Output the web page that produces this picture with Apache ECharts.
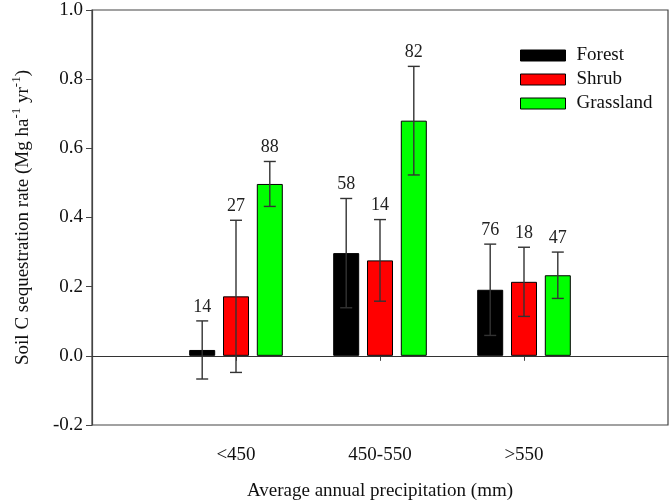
<!DOCTYPE html>
<html>
<head>
<meta charset="utf-8">
<script src="https://cdn.jsdelivr.net/npm/echarts@6/dist/echarts.min.js"></script>
<style>html,body{margin:0;padding:0;background:#fff}#c{width:672px;height:503px}</style>
</head>
<body>
<div id="c"></div>
<script>
var categories = ['<450', '450-550', '>550'];
var seriesNames = ['Forest', 'Shrub', 'Grassland'];
var forest = [0.017, 0.297, 0.191];
var forestErr = [0.084, 0.158, 0.132];
var shrub = [0.172, 0.276, 0.214];
var shrubErr = [0.220, 0.118, 0.100];
var grass = [0.497, 0.680, 0.233];
var grassErr = [0.065, 0.157, 0.067];
var nForest = [14, 58, 76];
var nShrub = [27, 14, 18];
var nGrass = [88, 82, 47];
var yTicks = { min: -0.2, max: 1.0, interval: 0.2 };

var FONT = "'Liberation Serif','Times New Roman',serif";
var colors = ['#000000', '#ff0000', '#00ff00'];
var means = [forest, shrub, grass];
var errs = [forestErr, shrubErr, grassErr];
var ns = [nForest, nShrub, nGrass];
var xCats = [''].concat(categories).concat(['']);
var CAT_GAP = 0.35, BAR_GAP = 0.3;

function pad(arr) { return [null].concat(arr).concat([null]); }

var series = [];
seriesNames.forEach(function (name, i) {
  var s = {
    name: name, type: 'bar', data: pad(means[i]),
    barCategoryGap: '35%', barGap: '30%',
    itemStyle: { color: colors[i], borderColor: '#000', borderWidth: 1 },
    emphasis: { disabled: true }, z: 2
  };
  if (i === 0) {
    s.markLine = {
      silent: true, symbol: 'none', label: { show: false },
      lineStyle: { color: '#333', type: 'solid', width: 1.2 },
      data: [{ yAxis: 0 }]
    };
  }
  series.push(s);
});

// error bars + n labels
var errData = [];
for (var g = 0; g < categories.length; g++) {
  for (var k = 0; k < 3; k++) {
    errData.push([g + 1, k, means[k][g], errs[k][g], ns[k][g]]);
  }
}
series.push({
  type: 'custom', name: 'err', z: 5, silent: true,
  data: errData,
  encode: { x: 0, y: 2 },
  renderItem: function (params, api) {
    var cat = api.value(0), k = api.value(1), m = api.value(2), e = api.value(3), n = api.value(4);
    var band = api.size([1, 0])[0];
    var bw = band * (1 - CAT_GAP) / (3 + 2 * BAR_GAP);
    var x = api.coord([cat, 0])[0] + (k - 1) * bw * (1 + BAR_GAP);
    var yTop = api.coord([cat, m + e])[1];
    var yBot = api.coord([cat, m - e])[1];
    var hw = 6;
    var st = { stroke: '#333', lineWidth: 1.4 };
    return {
      type: 'group',
      children: [
        { type: 'line', shape: { x1: x, y1: yTop, x2: x, y2: yBot }, style: st },
        { type: 'line', shape: { x1: x - hw, y1: yTop, x2: x + hw, y2: yTop }, style: st },
        { type: 'line', shape: { x1: x - hw, y1: yBot, x2: x + hw, y2: yBot }, style: st },
        { type: 'text', style: { x: x, y: yTop - 5, text: String(n), align: 'center', verticalAlign: 'bottom',
          fill: '#222', font: '18px ' + FONT } }
      ]
    };
  }
});

var chart = echarts.init(document.getElementById('c'), null, { renderer: 'canvas' });
chart.setOption({
  animation: false,
  backgroundColor: '#fff',
  textStyle: { fontFamily: FONT },
  grid: { left: 92, right: 4, top: 10, bottom: 78, containLabel: false, outerBoundsMode: 'none',
    show: true, borderColor: '#444', borderWidth: 1.2, backgroundColor: 'transparent' },
  legend: {
    data: seriesNames, orient: 'vertical', left: 515, top: 41,
    icon: 'rect',
    itemWidth: 45, itemHeight: 11, itemGap: 5,
    textStyle: { fontFamily: FONT, fontSize: 19, color: '#111', padding: [0, 0, 0, 6] },
    itemStyle: { borderColor: '#000', borderWidth: 1 },
    selectedMode: false
  },
  xAxis: {
    type: 'category', data: xCats, boundaryGap: false,
    axisLine: { lineStyle: { color: '#444', width: 1.2 } },
    axisTick: { show: true, length: 5, interval: function (i) { return i > 0 && i < xCats.length - 1; }, lineStyle: { color: '#444' } },
    axisLabel: { interval: 0, margin: 21, color: '#111', fontFamily: FONT, fontSize: 19 },
    name: 'Average annual precipitation (mm)', nameLocation: 'middle', nameGap: 57,
    nameTextStyle: { fontFamily: FONT, fontSize: 19, color: '#111' },
    splitLine: { show: false }
  },
  yAxis: {
    type: 'value', min: yTicks.min, max: yTicks.max, interval: yTicks.interval,
    axisLine: { show: true, lineStyle: { color: '#444', width: 1.2 } },
    axisTick: { show: true, length: 6, lineStyle: { color: '#444' } },
    axisLabel: { margin: 9, color: '#111', fontFamily: FONT, fontSize: 19, formatter: function (v) { return v.toFixed(1); } },
    splitLine: { show: false },
    name: 'Soil C sequestration rate (Mg ha{sup|-1} yr{sup|-1})', nameLocation: 'middle', nameGap: 56,
    nameTextStyle: { fontFamily: FONT, fontSize: 19, color: '#111', lineHeight: 26,
      rich: { sup: { fontFamily: FONT, fontSize: 13, color: '#111', verticalAlign: 'top', lineHeight: 13 } } }
  },
  series: series
});
</script>
</body>
</html>
